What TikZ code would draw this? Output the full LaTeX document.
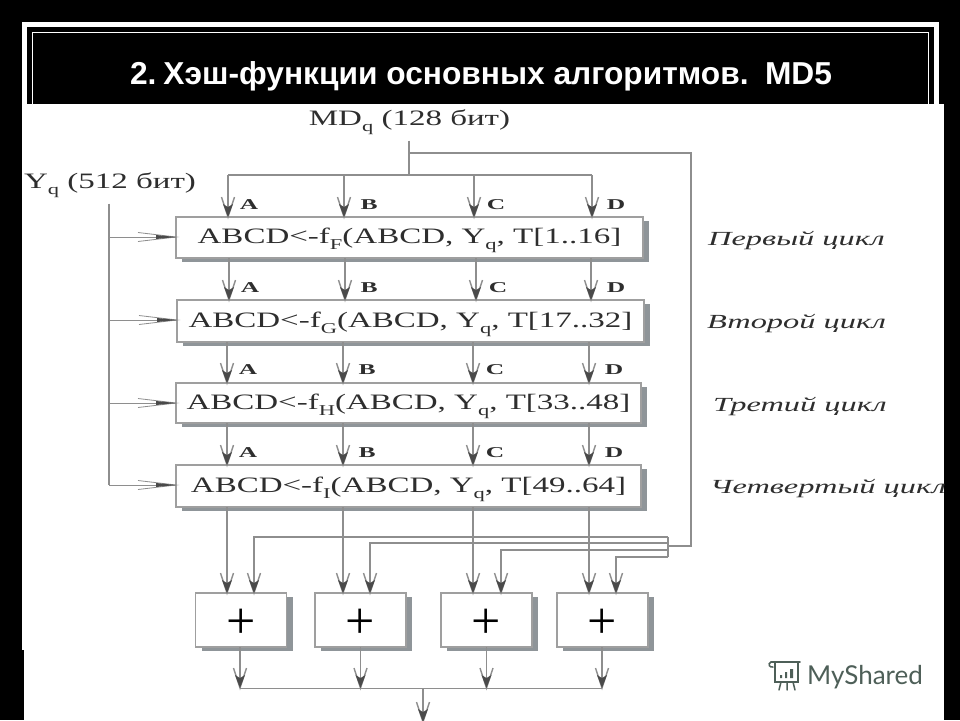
\documentclass[tikz,border=0pt]{standalone}
\usepackage{fontspec}
\setmainfont{Liberation Serif}
\newfontfamily\titlefont{Liberation Sans}
\newfontfamily\wideserif[FakeStretch=1.5]{Liberation Serif}
\newfontfamily\widesmall[FakeStretch=1.7]{Liberation Serif}
\newfontfamily\wideital[FakeStretch=1.62,ItalicFont={Liberation Serif Italic}]{Liberation Serif}
\newfontfamily\markfont{Lato}
\usetikzlibrary{shadows,decorations.markings}
\definecolor{ink}{HTML}{2E2E2E}
\definecolor{wire}{HTML}{8E8E8E}
\definecolor{tipdark}{HTML}{4A4A4A}
\definecolor{shade}{HTML}{8F9599}
\definecolor{markc}{HTML}{4E5F58}
\newcommand{\lowsub}[1]{\raisebox{-0.28em}{\fontsize{15}{15}\selectfont #1}}
\newcommand{\vfork}{%
  \draw[wire,line width=1.4pt,line join=miter] (-20pt,6.5pt) -- (0pt,0pt) -- (-20pt,-6.5pt);
  \fill[tipdark] (0pt,0pt) -- (-13pt,5pt) -- (-10pt,0pt) -- (-13pt,-5pt) -- cycle;}
\newcommand{\hfork}{%
  \draw[wire,line width=0.8pt] (-38pt,4.5pt) -- (0pt,0pt) -- (-38pt,-4.5pt);
  \fill[tipdark] (0pt,0pt) -- (-20pt,2pt) -- (-20pt,-2pt) -- cycle;}
\tikzset{
  wireline/.style={draw=wire,line width=1.4pt},
  arr/.style={wireline,postaction={decorate,decoration={markings,mark=at position 1 with {\vfork}}}},
  harr/.style={wireline,line width=1pt,postaction={decorate,decoration={markings,mark=at position 1 with {\hfork}}}},
  boxbase/.style={draw=gray!75,line width=1.2pt,fill=white,inner sep=0pt,outer sep=0pt,
    drop shadow={shadow xshift=6pt,shadow yshift=-4pt,fill=shade,opacity=1}},
  stage/.style={boxbase,text=ink,font=\wideserif\fontsize{22}{24}\selectfont,text height=16pt,text depth=4pt},
  adder/.style={boxbase,text=black,font=\fontsize{52}{52}\selectfont,minimum width=91pt,minimum height=54pt,text height=37pt,text depth=0pt},
  reglabel/.style={text=ink,font=\widesmall\fontsize{15}{16}\selectfont\bfseries,inner sep=0pt},
  cyclabel/.style={text=ink,font=\wideital\fontsize{20}{22}\selectfont\itshape,inner sep=0pt,anchor=base west},
  inlabel/.style={text=ink,font=\wideserif\fontsize{22}{24}\selectfont,inner sep=0pt,anchor=base},
}
\begin{document}
\begin{tikzpicture}[x=1pt,y=-1pt]
\useasboundingbox (0,0) rectangle (960,720);
% slide background and frame
\fill[black] (0,0) rectangle (960,720);
\draw[white,line width=5pt] (24.5,24.5) rectangle (936.5,110);
\draw[white,line width=1pt] (32.5,32.5) rectangle (928.5,110);
\fill[white] (22,104) rectangle (944,650);
\fill[white] (24,650) rectangle (944,720);
\node[text=white,font=\titlefont\bfseries\fontsize{31.7}{34}\selectfont,inner sep=0pt,anchor=base] (title) at (481,84) {2.\hspace{0.22em}Хэш-функции основных алгоритмов.\hspace{0.15em} MD5};
% inputs
\node[inlabel] (md) at (409.5,125) {MD\lowsub{q} (128 бит)};
\node[inlabel] (yq) at (110,188) {Y\lowsub{q} (512 бит)};
% stages
\node[stage,minimum width=467pt,minimum height=41pt] (s1) at (409.5,237.5) {ABCD<-f\lowsub{F}(ABCD, Y\lowsub{q}, T[1..16]};
\node[stage,minimum width=467pt,minimum height=42pt] (s2) at (410.5,321) {ABCD<-f\lowsub{G}(ABCD, Y\lowsub{q}, T[17..32]};
\node[stage,minimum width=465pt,minimum height=40pt] (s3) at (408.5,403) {ABCD<-f\lowsub{H}(ABCD, Y\lowsub{q}, T[33..48]};
\node[stage,minimum width=465pt,minimum height=42pt] (s4) at (408.5,486) {ABCD<-f\lowsub{I}(ABCD, Y\lowsub{q}, T[49..64]};
% adders
\node[adder] (p1) at (241,620) {+};
\node[adder] (p2) at (360.5,620) {+};
\node[adder] (p3) at (486.5,620) {+};
\node[adder] (p4) at (602.5,620) {+};
% cycle labels
\node[cyclabel] (c1) at (708,245) {Первый цикл};
\node[cyclabel] (c2) at (707,328) {Второй цикл};
\node[cyclabel] (c3) at (713,411) {Третий цикл};
\node[cyclabel] (c4) at (710,493) {Четвертый цикл};
% register bus
\coordinate (busa) at (228,175);
\coordinate (busb) at (344,175);
\coordinate (busc) at (474,175);
\coordinate (busd) at (592,175);
\coordinate (busm) at (409,175);
\coordinate (feed) at (691,153);
\coordinate (railj) at (668,546);
\draw[wireline] ([yshift=-6pt]md.south -| busm) -- (busm);
\draw[arr] (busa) -- (busa |- s1.north);
\draw[arr] (busb) -- (busb |- s1.north);
\draw[arr] (busc) -- (busc |- s1.north);
\draw[arr] (busd) -- (busd |- s1.north);
\draw[wireline] (busa) -- (busd);
\draw[wireline] (feed -| busm) -- (feed) |- (railj);
% stage to stage
\foreach \nm/\up/\dn/\xa/\xb/\xc/\xd/\ly in {r1/s1/s2/229/345/476/591/288,r2/s2/s3/227/343/473/589/370,r3/s3/s4/227/343/473/589/453}{
  \coordinate (\nm a) at (\xa,0);
  \coordinate (\nm b) at (\xb,0);
  \coordinate (\nm c) at (\xc,0);
  \coordinate (\nm d) at (\xd,0);
  \draw[arr] (\up.south -| \nm a) -- (\dn.north -| \nm a);
  \draw[arr] (\up.south -| \nm b) -- (\dn.north -| \nm b);
  \draw[arr] (\up.south -| \nm c) -- (\dn.north -| \nm c);
  \draw[arr] (\up.south -| \nm d) -- (\dn.north -| \nm d);
  \node[reglabel] (\nm A) at (\xa+21,\ly) {A};
  \node[reglabel] (\nm B) at (\xb+24,\ly) {B};
  \node[reglabel] (\nm C) at (\xc+22,\ly) {C};
  \node[reglabel] (\nm D) at (\xd+25,\ly) {D};
}
\node[reglabel] (la0) at (249,205) {A};
\node[reglabel] (lb0) at (369,205) {B};
\node[reglabel] (lc0) at (496,205) {C};
\node[reglabel] (ld0) at (616,205) {D};
% message input
\coordinate (yb1) at (109,237);
\coordinate (yb2) at (109,320);
\coordinate (yb3) at (109,403);
\coordinate (yb4) at (109,485);
\draw[wireline] ([yshift=-6pt]yq.south -| yb1) -- (yb4);
\draw[harr] (yb1) -- (yb1 -| s1.west);
\draw[harr] (yb2) -- (yb2 -| s2.west);
\draw[harr] (yb3) -- (yb3 -| s3.west);
\draw[harr] (yb4) -- (yb4 -| s4.west);
% to adders
\coordinate (oa) at (227,0);
\coordinate (ob) at (343,0);
\coordinate (oc) at (473,0);
\coordinate (od) at (589,0);
\draw[arr] (s4.south -| oa) -- (p1.north -| oa);
\draw[arr] (s4.south -| ob) -- (p2.north -| ob);
\draw[arr] (s4.south -| oc) -- (p3.north -| oc);
\draw[arr] (s4.south -| od) -- (p4.north -| od);
% feed-forward rails
\coordinate (r1) at (668,537);
\coordinate (r2) at (668,543);
\coordinate (r3) at (668,550);
\coordinate (r4) at (668,557);
\coordinate (t1) at (254,0);
\coordinate (t2) at (370,0);
\coordinate (t3) at (501,0);
\coordinate (t4) at (616,0);
\draw[wireline,line width=1.1pt] (r1) -- (r4);
\draw[arr,line width=1.1pt] (r1) -| (p1.north -| t1);
\draw[arr,line width=1.1pt] (r2) -| (p2.north -| t2);
\draw[arr,line width=1.1pt] (r3) -| (p3.north -| t3);
\draw[arr,line width=1.1pt] (r4) -| (p4.north -| t4);
% output
\coordinate (sum) at (240,688);
\coordinate (sumr) at (602,688);
\coordinate (outm) at (423,688);
\coordinate (outb) at (423,722);
\draw[wireline,line width=1pt] (sum) -- (sumr);
\draw[arr] (p1.south -| sum) -- (sum);
\draw[arr] (p2.south) -- (p2.south |- sum);
\draw[arr] (p3.south) -- (p3.south |- sum);
\draw[arr] (p4.south -| sumr) -- (sumr);
\draw[arr] (outm) -- (outb);
% watermark
\begin{scope}[draw=markc,line width=1.5pt,line cap=round]
\draw (771,662) -- (800,662) (775,662) -- (775,682) -- (798,682) -- (798,662);
\draw (771,662) .. controls (767,664) and (770,668) .. (773,667);
\draw (781,682) -- (779,690) (787,682) -- (787,690) (793,682) -- (795,690);
\fill[markc] (780,675) rectangle (782,678) (785,672) rectangle (787,678) (790,669) rectangle (793,678);
\end{scope}
\node[text=markc,font=\markfont\fontsize{26}{28}\selectfont,inner sep=0pt,anchor=base west] (mark) at (807,684) {MyShared};
\end{tikzpicture}
\end{document}
